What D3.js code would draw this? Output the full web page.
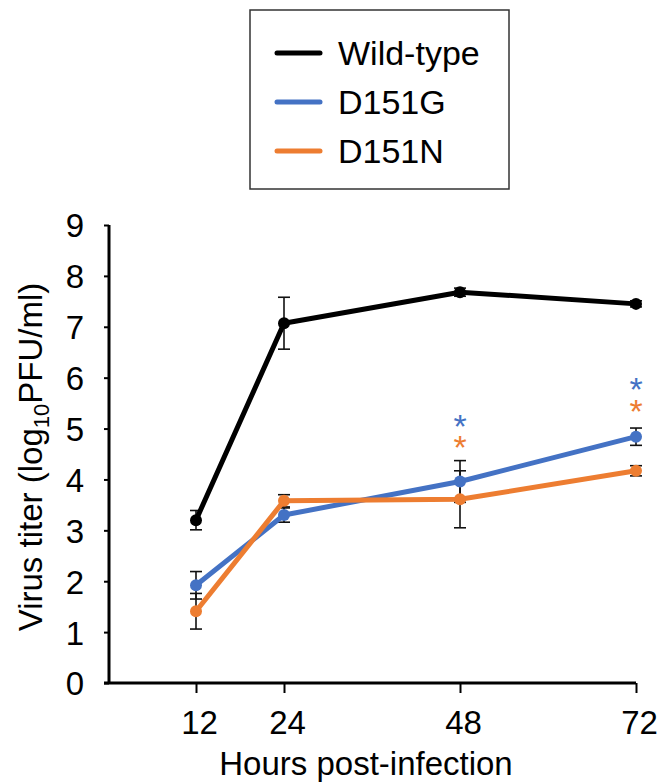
<!DOCTYPE html>
<html>
<head>
<meta charset="utf-8">
<script src="https://cdn.jsdelivr.net/npm/d3@7"></script>
<style>
    body { margin: 0; background: #fff; }
    svg { font-family: Arial, 'Liberation Sans', sans-serif; }
</style>
</head>
<body>
<div id="chart"></div>
<script>
const hours = [12, 24, 48, 72];
const xTicks = [12, 24, 48, 72];
const yTicks = [0, 1, 2, 3, 4, 5, 6, 7, 8, 9];

const seriesNames = ['Wild-type', 'D151G', 'D151N'];
const seriesColors = ['#000000', '#4472C4', '#ED7D31'];

const wildType = [3.20, 7.07, 7.68, 7.45];
const wildTypeErr = [0.19, 0.51, 0.08, 0.06];
const d151g = [1.92, 3.30, 3.96, 4.84];
const d151gErr = [0.27, 0.14, 0.41, 0.17];
const d151n = [1.41, 3.58, 3.61, 4.17];
const d151nErr = [0.35, 0.12, 0.56, 0.10];

// significance stars: hour, height (in titer units), series index
const starHours = [48, 48, 72, 72];
const starLevels = [5.14, 4.74, 5.87, 5.45];
const starSeries = [1, 2, 1, 2];

const W = 657, H = 783;
const plotLeft = 109, plotRight = 636, plotTop = 225, plotBottom = 683;

const svg = d3.select('#chart').append('svg')
    .attr('width', W)
    .attr('height', H);

const x = d3.scaleLinear().domain([0, 72]).range([plotLeft - 1, plotRight]);
const y = d3.scaleLinear().domain([0, 9]).range([plotBottom, plotTop]);

const series = [
    { name: seriesNames[0], color: seriesColors[0], values: wildType, err: wildTypeErr },
    { name: seriesNames[1], color: seriesColors[1], values: d151g, err: d151gErr },
    { name: seriesNames[2], color: seriesColors[2], values: d151n, err: d151nErr }
];

// axes
const yAxis = svg.append('g')
    .attr('transform', 'translate(' + plotLeft + ',0)')
    .call(d3.axisLeft(y).tickValues(yTicks).tickSize(5).tickPadding(20));
yAxis.select('.domain').attr('stroke-width', 3).attr('d', 'M0,' + plotTop + 'V' + plotBottom);
yAxis.selectAll('.tick line').attr('stroke-width', 2);
yAxis.selectAll('.tick text')
    .attr('font-size', 33)
    .attr('fill', '#000')
    .attr('dy', '0.36em');

const xAxis = svg.append('g')
    .attr('transform', 'translate(0,' + plotBottom + ')')
    .call(d3.axisBottom(x).tickValues(xTicks).tickSize(10).tickPadding(18));
xAxis.select('.domain').attr('stroke-width', 3).attr('d', 'M' + (plotLeft - 5) + ',0H' + plotRight);
xAxis.selectAll('.tick line').attr('stroke-width', 2);
xAxis.selectAll('.tick text')
    .attr('font-size', 33)
    .attr('fill', '#000')
    .attr('dx', 3)
    .attr('dy', '0.71em');

svg.append('text')
    .attr('x', 366)
    .attr('y', 775)
    .attr('text-anchor', 'middle')
    .attr('font-size', 33)
    .text('Hours post-infection');

const yTitle = svg.append('text')
    .attr('transform', 'translate(42,457) rotate(-90)')
    .attr('text-anchor', 'middle')
    .attr('font-size', 33);
yTitle.append('tspan').text('Virus titer (log');
yTitle.append('tspan').attr('font-size', 22).attr('dy', 7).text('10');
yTitle.append('tspan').attr('dy', -7).text('PFU/ml)');

// error bars
const cap = 6;
series.forEach(function(s) {
    const g = svg.append('g');
    hours.forEach(function(h, i) {
        const cx = x(h);
        const y1 = y(s.values[i] + s.err[i]);
        const y2 = y(s.values[i] - s.err[i]);
        g.append('line')
            .attr('x1', cx).attr('x2', cx)
            .attr('y1', y1).attr('y2', y2)
            .attr('stroke', '#111').attr('stroke-width', 1.6);
        [y1, y2].forEach(function(yy) {
            g.append('line')
                .attr('x1', cx - cap).attr('x2', cx + cap)
                .attr('y1', yy).attr('y2', yy)
                .attr('stroke', '#111').attr('stroke-width', 1.6);
        });
    });
});

// lines and markers
const line = d3.line()
    .x(function(d) { return x(d[0]); })
    .y(function(d) { return y(d[1]); });

series.forEach(function(s) {
    const pts = hours.map(function(h, i) { return [h, s.values[i]]; });
    svg.append('path')
        .datum(pts)
        .attr('d', line)
        .attr('fill', 'none')
        .attr('stroke', s.color)
        .attr('stroke-width', 5)
        .attr('stroke-linejoin', 'round');
    svg.selectAll(null)
        .data(pts)
        .join('circle')
        .attr('cx', function(d) { return x(d[0]); })
        .attr('cy', function(d) { return y(d[1]); })
        .attr('r', 6)
        .attr('fill', s.color);
});

// stars
svg.selectAll('text.star')
    .data(starHours.map(function(h, i) { return [h, starLevels[i], starSeries[i]]; }))
    .join('text')
    .classed('star', true)
    .attr('x', function(d) { return x(d[0]); })
    .attr('y', function(d) { return y(d[1]) + 17; })
    .attr('text-anchor', 'middle')
    .attr('font-size', 34)
    .attr('fill', function(d) { return seriesColors[d[2]]; })
    .text('*');

// legend
const legend = svg.append('g');
legend.append('rect')
    .attr('x', 250).attr('y', 10)
    .attr('width', 259).attr('height', 179)
    .attr('fill', '#fff')
    .attr('stroke', '#333')
    .attr('stroke-width', 1.5);

seriesNames.forEach(function(name, i) {
    const ly = 53 + i * 49;
    legend.append('line')
        .attr('x1', 277).attr('x2', 320)
        .attr('y1', ly).attr('y2', ly)
        .attr('stroke', seriesColors[i])
        .attr('stroke-width', 5)
        .attr('stroke-linecap', 'round');
    legend.append('text')
        .attr('x', 338)
        .attr('y', ly + 12)
        .attr('font-size', 34)
        .text(name);
});
</script>
</body>
</html>
